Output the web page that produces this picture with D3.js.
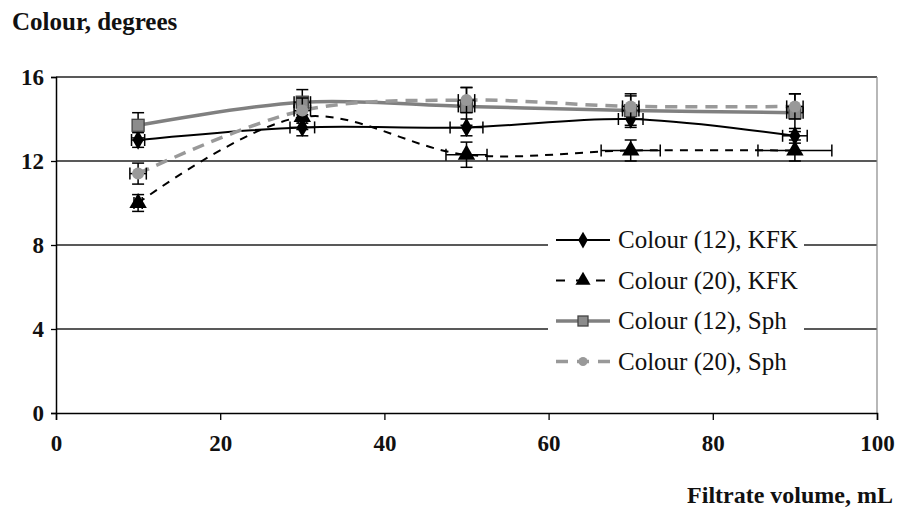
<!DOCTYPE html>
<html><head><meta charset="utf-8">
<script src="https://cdn.jsdelivr.net/npm/d3@7"></script>
</head><body style="margin:0">
<svg id="c" width="903" height="508"></svg>
<script>
const volumes = [10, 30, 50, 70, 90];
const colour12KFK = [13.0, 13.6, 13.6, 14.0, 13.2];
const colour20KFK = [10.0, 14.1, 12.3, 12.5, 12.5];
const colour12Sph = [13.7, 14.8, 14.6, 14.4, 14.3];
const colour20Sph = [11.4, 14.4, 14.9, 14.6, 14.6];
const errY12KFK = [0.35, 0.4, 0.4, 0.4, 0.35];
const errY20KFK = [0.4, 0.6, 0.6, 0.5, 0.5];
const errY12Sph = [0.6, 0.6, 0.9, 0.7, 0.9];
const errY20Sph = [0.5, 0.6, 0.6, 0.6, 0.6];
const errX12KFK = [0.8, 1.5, 2.0, 1.5, 1.5];
const errX20KFK = [0.5, 0.5, 2.5, 3.6, 4.5];
const errX12Sph = [0.5, 1.0, 1.0, 1.0, 1.0];
const errX20Sph = [1.0, 1.0, 1.0, 1.0, 1.0];
const xTicks = [0, 20, 40, 60, 80, 100];
const yTicks = [0, 4, 8, 12, 16];
const seriesNames = ["Colour (12), KFK", "Colour (20), KFK", "Colour (12), Sph", "Colour (20), Sph"];

const series = [
  {name: seriesNames[0], y: colour12KFK, ey: errY12KFK, ex: errX12KFK, color: "#000", width: 2, dash: null, marker: "diamond"},
  {name: seriesNames[1], y: colour20KFK, ey: errY20KFK, ex: errX20KFK, color: "#000", width: 2, dash: "8,7", marker: "triangle"},
  {name: seriesNames[2], y: colour12Sph, ey: errY12Sph, ex: errX12Sph, color: "#808080", width: 3.5, dash: null, marker: "square"},
  {name: seriesNames[3], y: colour20Sph, ey: errY20Sph, ex: errX20Sph, color: "#999", width: 3.5, dash: "12,8", marker: "circle"}
];

const FONT = '"Liberation Serif", "Times New Roman", serif';
const svg = d3.select("#c");
const L = 56, R = 877, T = 77, B = 413;
const x = d3.scaleLinear().domain([0, 100]).range([L, R]);
const y = d3.scaleLinear().domain([0, 16]).range([B, T]);

svg.append("g").selectAll("line").data(yTicks.filter(d => d > 0)).join("line")
  .attr("x1", L).attr("x2", R).attr("y1", d => y(d)).attr("y2", d => y(d))
  .attr("stroke", "#222").attr("stroke-width", 1.3);
svg.append("line").attr("x1", R).attr("x2", R).attr("y1", T).attr("y2", B)
  .attr("stroke", "#888").attr("stroke-width", 1.2);

const xAxis = svg.append("g").attr("transform", `translate(0,${B})`)
  .call(d3.axisBottom(x).tickValues(xTicks).tickSize(7).tickPadding(15).tickFormat(d3.format("d")));
const yAxis = svg.append("g").attr("transform", `translate(${L},0)`)
  .call(d3.axisLeft(y).tickValues(yTicks).tickSize(5).tickPadding(7).tickFormat(d3.format("d")));
[xAxis, yAxis].forEach(a => {
  a.attr("font-family", null).attr("font-size", null);
  a.select(".domain").attr("stroke", "#000").attr("stroke-width", 1.5);
  a.selectAll(".tick line").attr("stroke", "#000").attr("stroke-width", 1.3);
  a.selectAll("text").style("font-family", FONT).attr("font-weight", "bold")
    .attr("font-size", 23).attr("fill", "#111");
});

const line = d3.line().x((d, i) => x(volumes[i])).y(d => y(d)).curve(d3.curveCatmullRom.alpha(0.5));
series.forEach(s => {
  svg.append("path").datum(s.y).attr("d", line)
    .attr("fill", "none").attr("stroke", s.color).attr("stroke-width", s.width)
    .attr("stroke-dasharray", s.dash);
});

function drawMarker(g, type, cx, cy, color, size) {
  if (type === "diamond") {
    g.append("path").attr("d", d3.symbol(d3.symbolDiamond, size * 9)()).attr("transform", `translate(${cx},${cy})`).attr("fill", color);
  } else if (type === "triangle") {
    g.append("path").attr("d", d3.symbol(d3.symbolTriangle, size * 11)()).attr("transform", `translate(${cx},${cy})`).attr("fill", color);
  } else if (type === "square") {
    g.append("rect").attr("x", cx - size / 2).attr("y", cy - size / 2).attr("width", size).attr("height", size)
      .attr("fill", "#8c8c8c").attr("stroke", "#444").attr("stroke-width", 1.3);
  } else {
    g.append("circle").attr("cx", cx).attr("cy", cy).attr("r", size / 2).attr("fill", color);
  }
}

series.forEach(s => {
  const g = svg.append("g");
  s.y.forEach((v, i) => {
    const cx = x(volumes[i]), cy = y(v);
    const eb = g.append("g").attr("stroke", "#000").attr("stroke-width", 1.5);
    const y1 = y(v + s.ey[i]), y2 = y(v - s.ey[i]);
    eb.append("line").attr("x1", cx).attr("x2", cx).attr("y1", y1).attr("y2", y2);
    eb.append("line").attr("x1", cx - 6).attr("x2", cx + 6).attr("y1", y1).attr("y2", y1);
    eb.append("line").attr("x1", cx - 6).attr("x2", cx + 6).attr("y1", y2).attr("y2", y2);
    const x1 = x(volumes[i] - s.ex[i]), x2 = x(volumes[i] + s.ex[i]);
    eb.append("line").attr("x1", x1).attr("x2", x2).attr("y1", cy).attr("y2", cy);
    eb.append("line").attr("x1", x1).attr("x2", x1).attr("y1", cy - 6).attr("y2", cy + 6);
    eb.append("line").attr("x1", x2).attr("x2", x2).attr("y1", cy - 6).attr("y2", cy + 6);
    drawMarker(g, s.marker, cx, cy, s.color, 12);
  });
});

const lg = svg.append("g");
lg.append("rect").attr("x", 548).attr("y", 222).attr("width", 256).attr("height", 158).attr("fill", "#fff");
series.forEach((s, i) => {
  const ly = 240 + i * 40.5;
  const row = lg.append("g");
  row.append("line").attr("x1", 556).attr("x2", 610).attr("y1", ly).attr("y2", ly)
    .attr("stroke", s.color).attr("stroke-width", s.width).attr("stroke-dasharray", s.dash ? (s.marker === "triangle" ? "9,11" : "12,9") : null);
  drawMarker(row, s.marker, 583, ly, s.color, s.marker === "square" ? 10 : 9);
  row.append("text").attr("x", 618).attr("y", ly + 8).text(s.name)
    .style("font-family", FONT).attr("font-size", 25).attr("fill", "#111");
});

svg.append("text").attr("x", 12).attr("y", 30).text("Colour, degrees")
  .style("font-family", FONT).attr("font-weight", "bold").attr("font-size", 25).attr("fill", "#111");
svg.append("text").attr("x", 893).attr("y", 503).attr("text-anchor", "end").text("Filtrate volume, mL")
  .style("font-family", FONT).attr("font-weight", "bold").attr("font-size", 24).attr("fill", "#111");
</script>
</body></html>
